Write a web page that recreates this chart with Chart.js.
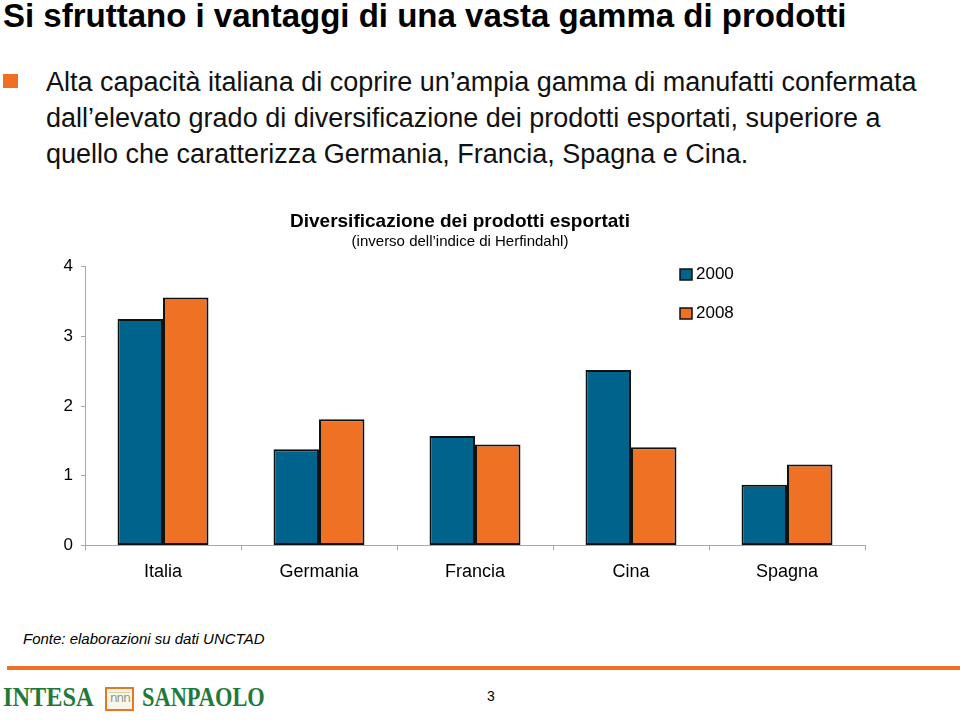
<!DOCTYPE html>
<html>
<head>
<meta charset="utf-8">
<script src="https://cdn.jsdelivr.net/npm/chart.js@4/dist/chart.umd.min.js"></script>
<style>
  html, body { margin: 0; padding: 0; background: #fff; }
  body { width: 960px; height: 720px; position: relative; overflow: hidden;
         font-family: "Liberation Sans", Arial, sans-serif; color: #000; }
  .abs { position: absolute; white-space: nowrap; }
  #title { left: 3px; top: -1px; font-size: 33px; line-height: 33px; font-weight: bold; }
  #bullet { left: 3px; top: 74px; width: 15px; height: 14px; background: #F07022; }
  #text { left: 46px; top: 64px; font-size: 27px; line-height: 36px; color: #111; }
  #chart-wrap { left: 0; top: 200px; width: 900px; height: 400px; }
  #source { left: 23px; top: 630px; font-size: 15px; font-style: italic; }
  #rule { left: 7px; top: 666px; width: 953px; height: 4px; background: #F07022; }
  .logo { font-family: "Liberation Serif", "DejaVu Serif", serif; font-weight: bold;
          color: #1F7A3A; font-size: 28px; line-height: 28px; transform-origin: 0 0; }
  #intesa { left: 3px; top: 683px; transform: scaleX(0.87); }
  #sanpaolo { left: 142px; top: 683px; transform: scaleX(0.8); }
  #icon { left: 105px; top: 687px; width: 25px; height: 20px; border: 2px solid #E87722;
          background: #fbf6ec; }
  #icon span { position: absolute; left: 3px; top: 2px; font-family: "DejaVu Sans", sans-serif;
               font-size: 12px; color: #8b9a80; letter-spacing: -1px; }
  #icon i { position: absolute; left: 2px; right: 2px; top: 3px; height: 1px; background: #d9cfa0; }
  #page { left: 487px; top: 688px; font-size: 14px; }
</style>
</head>
<body>
<div class="abs" id="title">Si sfruttano i vantaggi di una vasta gamma di prodotti</div>
<div class="abs" id="bullet"></div>
<div class="abs" id="text">Alta capacità italiana di coprire un’ampia gamma di manufatti confermata<br>dall’elevato grado di diversificazione dei prodotti esportati, superiore a<br>quello che caratterizza Germania, Francia, Spagna e Cina.</div>
<div class="abs" id="chart-wrap"><canvas id="chart" width="900" height="400"></canvas></div>
<div class="abs" id="source">Fonte: elaborazioni su dati UNCTAD</div>
<div class="abs" id="rule"></div>
<div class="abs logo" id="intesa">INTESA</div>
<div class="abs" id="icon"><i></i><span>nnn</span></div>
<div class="abs logo" id="sanpaolo">SANPAOLO</div>
<div class="abs" id="page">3</div>

<script>
'use strict';

/* ── Data ─────────────────────────────────────────────── */
const categories  = ['Italia', 'Germania', 'Francia', 'Cina', 'Spagna'];
const seriesNames = ['2000', '2008'];
const values2000  = [3.25, 1.38, 1.57, 2.52, 0.87];
const values2008  = [3.56, 1.81, 1.45, 1.41, 1.16];
const yTicks      = [0, 1, 2, 3, 4];

const chartTitle    = 'Diversificazione dei prodotti esportati';
const chartSubtitle = '(inverso dell’indice di Herfindahl)';

const BLUE   = '#00638C';
const ORANGE = '#EF7124';
const FONT   = '"Liberation Sans", Arial, sans-serif';

// Legend drawn inside the plot, top right, stacked vertically.
const insideLegend = {
  id: 'insideLegend',
  afterDraw(ch) {
    const ctx = ch.ctx;
    ctx.save();
    ctx.font = '17px ' + FONT;
    ctx.textBaseline = 'middle';
    ch.data.datasets.forEach((ds, i) => {
      const x = 680, y = 69 + i * 39;
      ctx.fillStyle = ds.backgroundColor;
      ctx.fillRect(x, y, 12, 11);
      ctx.strokeStyle = '#111';
      ctx.lineWidth = 1.5;
      ctx.strokeRect(x, y, 12, 11);
      ctx.fillStyle = '#000';
      ctx.fillText(ds.label, x + 16, y + 5.5);
    });
    ctx.restore();
  }
};

const barStyle = { borderColor: '#111', borderWidth: 2, borderSkipped: false,
                   categoryPercentage: 0.583, barPercentage: 1.0 };

new Chart(document.getElementById('chart'), {
  type: 'bar',
  data: {
    labels: categories,
    datasets: [
      { label: seriesNames[0], data: values2000, backgroundColor: BLUE,   ...barStyle },
      { label: seriesNames[1], data: values2008, backgroundColor: ORANGE, ...barStyle }
    ]
  },
  plugins: [insideLegend],
  options: {
    responsive: false,
    animation: false,
    layout: { padding: { left: 55, right: 35, top: 0, bottom: 6 } },
    plugins: {
      legend: { display: false },
      tooltip: { enabled: false },
      title: {
        display: true, text: chartTitle, color: '#000',
        font: { family: FONT, size: 19, weight: 'bold' },
        padding: { top: 10, bottom: 0 }
      },
      subtitle: {
        display: true, text: chartSubtitle, color: '#000',
        font: { family: FONT, size: 15 },
        padding: { top: 0, bottom: 16 }
      }
    },
    scales: {
      x: {
        grid: { offset: true, drawOnChartArea: false, tickLength: 5, color: '#a8a8a8' },
        border: { color: '#a8a8a8' },
        ticks: { color: '#000', padding: 11, font: { family: FONT, size: 18 } }
      },
      y: {
        min: 0, max: 4,
        afterFit: s => { s.width = 30; },
        afterBuildTicks: s => { s.ticks = yTicks.map(v => ({ value: v })); },
        grid: { drawOnChartArea: false, tickLength: 4, color: '#a8a8a8' },
        border: { color: '#a8a8a8' },
        ticks: { color: '#000', padding: 8, font: { family: FONT, size: 17 } }
      }
    }
  }
});
</script>
</body>
</html>
